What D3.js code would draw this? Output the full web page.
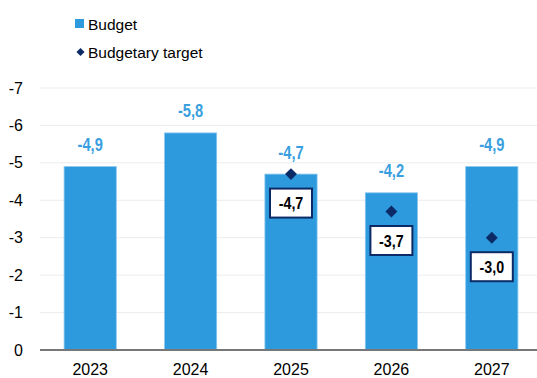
<!DOCTYPE html>
<html>
<head>
<meta charset="utf-8">
<script src="https://cdn.jsdelivr.net/npm/d3@7"></script>
<style>
  html, body { margin: 0; padding: 0; background: #fff; }
  svg { display: block; }
  text { font-family: "Liberation Sans", Arial, sans-serif; }
</style>
</head>
<body>
<svg id="chart" width="537" height="378"></svg>
<script>
// Budget balance by year (negative = deficit), with budgetary targets
const years = ["2023", "2024", "2025", "2026", "2027"];
const budget = [-4.9, -5.8, -4.7, -4.2, -4.9];
const targetYears = ["2025", "2026", "2027"];
const target = [-4.7, -3.7, -3.0];
const yTicks = [0, -1, -2, -3, -4, -5, -6, -7];
const legendLabels = ["Budget", "Budgetary target"];

const fmt = v => v.toFixed(1).replace(".", ",");

const W = 537, H = 378;
const margin = { top: 88, right: -5, bottom: 28, left: 40 };
const svg = d3.select("#chart");

// condensed look for value labels: squeeze glyphs horizontally
function condense(sel, k) {
  sel.each(function () {
    const w = this.getComputedTextLength();
    d3.select(this)
      .attr("textLength", w * k)
      .attr("lengthAdjust", "spacingAndGlyphs");
  });
}

const x = d3.scaleBand()
  .domain(years)
  .range([margin.left, W - margin.right])
  .paddingInner(0.48)
  .paddingOuter(0.24);

const y = d3.scaleLinear()
  .domain([0, -7])
  .range([H - margin.bottom, margin.top]);

const barColor = "#2e9ade";
const navy = "#0b2a66";

// gridlines
svg.append("g")
  .selectAll("line")
  .data(yTicks.filter(t => t !== 0))
  .join("line")
  .attr("x1", margin.left)
  .attr("x2", W)
  .attr("y1", d => y(d))
  .attr("y2", d => y(d))
  .attr("stroke", "#ececec")
  .attr("stroke-width", 1);

// y axis labels
const yAxis = d3.axisLeft(y).tickValues(yTicks).tickSize(0).tickPadding(0)
  .tickFormat(d => d === 0 ? "0" : String(d));
svg.append("g")
  .attr("transform", `translate(${margin.left - 17},0)`)
  .call(yAxis)
  .call(g => g.select(".domain").remove())
  .call(g => g.selectAll("text")
    .attr("fill", "#000")
    .attr("font-size", 16)
    .attr("font-family", "'Liberation Sans', Arial, sans-serif"));

// bars
svg.append("g")
  .selectAll("rect")
  .data(years.map((yr, i) => ({ yr, v: budget[i] })))
  .join("rect")
  .attr("x", d => x(d.yr))
  .attr("width", x.bandwidth())
  .attr("y", d => y(d.v))
  .attr("height", d => y(0) - y(d.v))
  .attr("fill", barColor)
  .attr("stroke", "#8cc8ee")
  .attr("stroke-width", 0.8);

// zero baseline
svg.append("line")
  .attr("x1", margin.left)
  .attr("x2", W)
  .attr("y1", y(0))
  .attr("y2", y(0))
  .attr("stroke", "#777")
  .attr("stroke-width", 2.2);

// x axis labels
const xAxis = d3.axisBottom(x).tickSize(0).tickPadding(0);
svg.append("g")
  .attr("transform", `translate(0,${y(0) + 14})`)
  .call(xAxis)
  .call(g => g.select(".domain").remove())
  .call(g => g.selectAll("text")
    .attr("fill", "#000")
    .attr("font-size", 16)
    .attr("font-family", "'Liberation Sans', Arial, sans-serif"));

// budget value labels
svg.append("g")
  .selectAll("text")
  .data(years.map((yr, i) => ({ yr, v: budget[i] })))
  .join("text")
  .attr("x", d => x(d.yr) + x.bandwidth() / 2)
  .attr("y", d => y(d.v) - 15.5)
  .attr("text-anchor", "middle")
  .attr("font-size", 17.5)
  .attr("font-weight", "bold")
  .attr("fill", "#3a9fe0")
  .text(d => fmt(d.v))
  .call(condense, 0.84);

// target diamonds
const tData = targetYears.map((yr, i) => ({ yr, v: target[i] }));
const diamond = d3.symbol().type(d3.symbolDiamond2).size(90);
svg.append("g")
  .selectAll("path")
  .data(tData)
  .join("path")
  .attr("d", diamond)
  .attr("transform", d => `translate(${x(d.yr) + x.bandwidth() / 2},${y(d.v)})`)
  .attr("fill", navy);

// boxed target labels
const boxes = svg.append("g")
  .selectAll("g")
  .data(tData)
  .join("g")
  .attr("transform", d => `translate(${x(d.yr) + x.bandwidth() / 2},${y(d.v) + 29})`);
boxes.append("rect")
  .attr("x", -21)
  .attr("y", -14.5)
  .attr("width", 42)
  .attr("height", 29)
  .attr("fill", "#fff")
  .attr("stroke", navy)
  .attr("stroke-width", 2);
boxes.append("text")
  .attr("text-anchor", "middle")
  .attr("dy", "0.36em")
  .attr("font-size", 17)
  .attr("font-weight", "bold")
  .attr("fill", "#000")
  .text(d => fmt(d.v))
  .call(condense, 0.84);

// legend
const legend = svg.append("g");
legend.append("rect")
  .attr("x", 75).attr("y", 19).attr("width", 9).attr("height", 9)
  .attr("fill", barColor);
legend.append("text")
  .attr("x", 88).attr("y", 30)
  .attr("font-size", 15.5)
  .attr("fill", "#000")
  .text(legendLabels[0]);
legend.append("path")
  .attr("d", d3.symbol().type(d3.symbolDiamond2).size(42))
  .attr("transform", "translate(80.5,52)")
  .attr("fill", navy);
legend.append("text")
  .attr("x", 88).attr("y", 58)
  .attr("font-size", 15.5)
  .attr("fill", "#000")
  .text(legendLabels[1]);
</script>
</body>
</html>
